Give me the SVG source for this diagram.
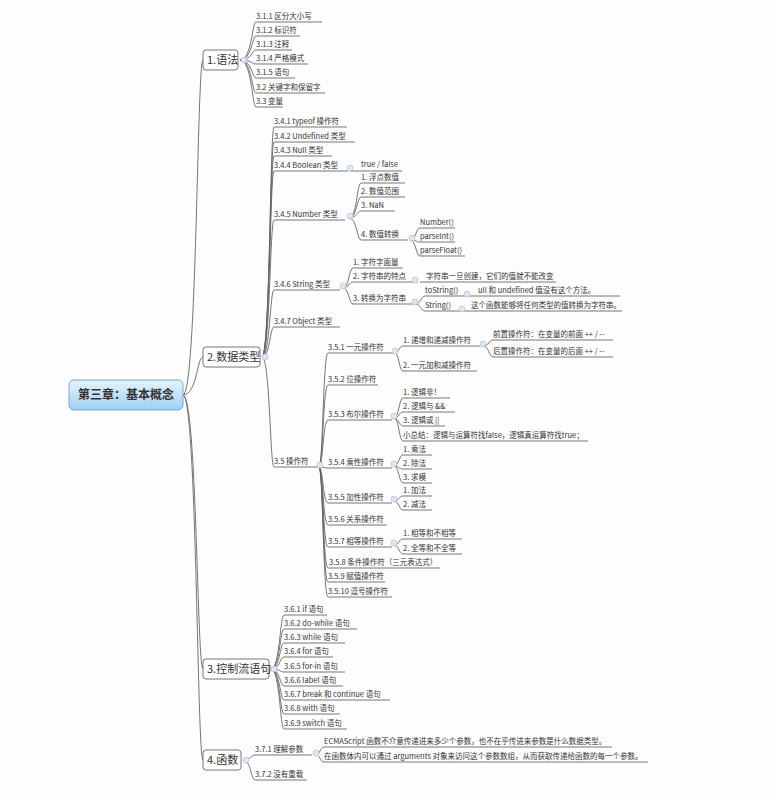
<svg xmlns="http://www.w3.org/2000/svg" width="775" height="795" viewBox="0 0 775 795">
<defs>
<linearGradient id="rg" x1="0" y1="0" x2="0" y2="1"><stop offset="0" stop-color="#e6f3ff"/><stop offset="1" stop-color="#9fd0f5"/></linearGradient>
<style>
.t{font-family:"Noto Sans CJK SC","Liberation Sans",sans-serif;font-size:7.5px;fill:#333}
.m{font-family:"Noto Sans CJK SC","Liberation Sans",sans-serif;font-size:11px;fill:#333}
.c path{fill:none;stroke:#666;stroke-width:0.9}
.box{fill:#fff;stroke:#777;stroke-width:1}
.ic{fill:#dde6f5;stroke:#aab8d8;stroke-width:0.6}
</style>
</defs>
<rect width="775" height="795" fill="#fdfdfd"/>
<g class="c" id="connectors">
<path d="M183,395 C197,395 197,60 203,60"/>
<path d="M183,395 C197,395 197,357 203,357"/>
<path d="M183,395 C197,395 197,669 203,669"/>
<path d="M183,395 C197,395 197,760 203,760"/>
<!-- 1 -->
<path d="M240,60 C252,60 252,22 256,22 H322"/>
<path d="M240,60 C252,60 252,36 256,36 H300"/>
<path d="M240,60 C252,60 252,50 256,50 H292"/>
<path d="M240,60 C252,60 252,64 256,64 H308"/>
<path d="M240,60 C252,60 252,78 256,78 H295"/>
<path d="M240,60 C252,60 252,93 256,93 H325"/>
<path d="M240,60 C252,60 252,107 256,107 H283"/>
<!-- 2 -->
<path d="M262,357 C270,357 270,127 274,127 H347"/>
<path d="M262,357 C270,357 270,142 274,142 H355"/>
<path d="M262,357 C270,357 270,156 274,156 H332"/>
<path d="M262,357 C270,357 270,171 274,171 H348"/>
<path d="M350,171 H402"/>
<path d="M262,357 C270,357 270,220 274,220 H345"/>
<path d="M262,357 C270,357 270,290 274,290 H340"/>
<path d="M262,357 C270,357 270,327 274,327 H340"/>
<path d="M262,357 C270,357 270,467 274,467 H318"/>
<!-- number -->
<path d="M349,218 C357,218 357,183 361,183 H405"/>
<path d="M349,218 C357,218 357,197 361,197 H405"/>
<path d="M349,218 C357,218 357,211 361,211 H395"/>
<path d="M349,218 C357,218 357,240 361,240 H408"/>
<path d="M410,240 C416,240 416,228 420,228 H455"/>
<path d="M410,240 C416,240 416,242 420,242 H455"/>
<path d="M410,240 C416,240 416,256 420,256 H465"/>
<!-- string -->
<path d="M343,288 C349,288 349,268 353,268 H403"/>
<path d="M343,288 C349,288 349,282 353,282 H418"/>
<path d="M420,282 H556"/>
<path d="M343,288 C349,288 349,304 353,304 H413"/>
<path d="M415,304 C421,304 421,296 425,296 H465"/>
<path d="M467,296 H620"/>
<path d="M415,304 C421,304 421,311 425,311 H462"/>
<path d="M462,311 H622"/>
<!-- 3.5 -->
<path d="M319,467 C323,467 323,353 328,353 H393"/>
<path d="M319,467 C323,467 323,385 328,385 H378"/>
<path d="M319,467 C323,467 323,420 328,420 H392"/>
<path d="M319,467 C323,467 323,468 328,468 H392"/>
<path d="M319,467 C323,467 323,503 328,503 H392"/>
<path d="M319,467 C323,467 323,525 328,525 H387"/>
<path d="M319,467 C323,467 323,547 328,547 H392"/>
<path d="M319,467 C323,467 323,568 328,568 H440"/>
<path d="M319,467 C323,467 323,582 328,582 H385"/>
<path d="M319,467 C323,467 323,597 328,597 H392"/>
<path d="M395,353 C399,353 399,346 403,346 H480"/>
<path d="M395,353 C399,353 399,371 403,371 H477"/>
<path d="M483,346 C489,346 489,340 493,340 H613"/>
<path d="M483,346 C489,346 489,357 493,357 H613"/>
<path d="M394,418 C399,418 399,398 403,398 H450"/>
<path d="M394,418 C399,418 399,412 403,412 H455"/>
<path d="M394,418 C399,418 399,426 403,426 H445"/>
<path d="M394,418 C399,418 399,441 403,441 H588"/>
<path d="M394,466 C399,466 399,455 403,455 H432"/>
<path d="M394,466 C399,466 399,469 403,469 H432"/>
<path d="M394,466 C399,466 399,483 403,483 H432"/>
<path d="M394,501 C399,501 399,496 403,496 H432"/>
<path d="M394,501 C399,501 399,510 403,510 H432"/>
<path d="M394,545 C399,545 399,539 403,539 H462"/>
<path d="M394,545 C399,545 399,554 403,554 H462"/>
<!-- 3 -->
<path d="M271,669 C280,669 280,615 284,615 H327"/>
<path d="M271,669 C280,669 280,629 284,629 H357"/>
<path d="M271,669 C280,669 280,643 284,643 H345"/>
<path d="M271,669 C280,669 280,657 284,657 H333"/>
<path d="M271,669 C280,669 280,672 284,672 H345"/>
<path d="M271,669 C280,669 280,686 284,686 H343"/>
<path d="M271,669 C280,669 280,700 284,700 H390"/>
<path d="M271,669 C280,669 280,714 284,714 H340"/>
<path d="M271,669 C280,669 280,729 284,729 H347"/>
<!-- 4 -->
<path d="M243,760 C251,760 251,755 255,755 H312"/>
<path d="M243,760 C251,760 251,780 255,780 H307"/>
<path d="M316,755 C320,755 320,747 324,747 H612"/>
<path d="M316,755 C320,755 320,762 324,762 H648"/>
</g>
<g id="icons">
<circle class="ic" cx="244" cy="60" r="3"/><circle class="ic" cx="265" cy="357" r="3"/><circle class="ic" cx="274" cy="669" r="3"/><circle class="ic" cx="246" cy="760" r="3"/>
<circle class="ic" cx="350" cy="168" r="3"/><circle class="ic" cx="350" cy="216" r="3"/><circle class="ic" cx="412" cy="238" r="3"/>
<circle class="ic" cx="343" cy="286" r="3"/><circle class="ic" cx="415" cy="280" r="3"/><circle class="ic" cx="415" cy="302" r="3"/><circle class="ic" cx="467" cy="294" r="3"/><circle class="ic" cx="462" cy="309" r="3"/>
<circle class="ic" cx="320" cy="465" r="3"/><circle class="ic" cx="395" cy="351" r="3"/><circle class="ic" cx="483" cy="344" r="3"/><circle class="ic" cx="394" cy="416" r="3"/><circle class="ic" cx="394" cy="464" r="3"/><circle class="ic" cx="394" cy="499" r="3"/><circle class="ic" cx="394" cy="543" r="3"/><circle class="ic" cx="316" cy="753" r="3"/>
</g>
<g id="root"><rect x="69" y="380" width="114" height="30" rx="5" fill="url(#rg)" stroke="#7aa6cc"/><text x="126" y="399" text-anchor="middle" font-family="Noto Sans CJK SC, sans-serif" font-size="12" font-weight="bold" fill="#333">第三章：基本概念</text></g>
<g id="n1"><rect class="box" x="203" y="50" width="35" height="20" rx="3"/><text class="m" x="207" y="64">1.语法</text></g>
<g id="n2"><rect class="box" x="203" y="347" width="57" height="20" rx="3"/><text class="m" x="207" y="361">2.数据类型</text></g>
<g id="n3"><rect class="box" x="203" y="659" width="66" height="20" rx="3"/><text class="m" x="207" y="673">3.控制流语句</text></g>
<g id="n4"><rect class="box" x="203" y="750" width="38" height="20" rx="3"/><text class="m" x="207" y="764">4.函数</text></g>
<g id="leaves" class="t">
<text class="t" x="256" y="19">3.1.1 区分大小写</text>
<text class="t" x="256" y="33">3.1.2 标识符</text>
<text class="t" x="256" y="47">3.1.3 注释</text>
<text class="t" x="256" y="61">3.1.4 严格模式</text>
<text class="t" x="256" y="75">3.1.5 语句</text>
<text class="t" x="256" y="90">3.2 关键字和保留字</text>
<text class="t" x="256" y="104">3.3 变量</text>
<text class="t" x="274" y="124">3.4.1  typeof 操作符</text>
<text class="t" x="274" y="139">3.4.2  Undefined 类型</text>
<text class="t" x="274" y="153">3.4.3  Null 类型</text>
<text class="t" x="274" y="168">3.4.4  Boolean 类型</text>
<text class="t" x="361" y="167">true / false</text>
<text class="t" x="274" y="217">3.4.5  Number 类型</text>
<text class="t" x="361" y="180">1. 浮点数值</text>
<text class="t" x="361" y="194">2. 数值范围</text>
<text class="t" x="361" y="208">3.  NaN</text>
<text class="t" x="361" y="237">4. 数值转换</text>
<text class="t" x="420" y="225">Number()</text>
<text class="t" x="420" y="239">parseInt()</text>
<text class="t" x="420" y="253">parseFloat()</text>
<text class="t" x="274" y="287">3.4.6  String 类型</text>
<text class="t" x="353" y="265">1. 字符字面量</text>
<text class="t" x="353" y="279">2. 字符串的特点</text>
<text class="t" x="426" y="279">字符串一旦创建，它们的值就不能改变</text>
<text class="t" x="353" y="301">3. 转换为字符串</text>
<text class="t" x="425" y="293">toString()</text>
<text class="t" x="478" y="293">ull 和 undefined 值没有这个方法。</text>
<text class="t" x="425" y="308">String()</text>
<text class="t" x="471" y="308">这个函数能够将任何类型的值转换为字符串。</text>
<text class="t" x="274" y="324">3.4.7  Object 类型</text>
<text class="t" x="274" y="464">3.5 操作符</text>
<text class="t" x="328" y="350">3.5.1 一元操作符</text>
<text class="t" x="403" y="343">1. 递增和递减操作符</text>
<text class="t" x="493" y="337">前置操作符：在变量的前面 ++ / --</text>
<text class="t" x="493" y="354">后置操作符：在变量的后面 ++ / --</text>
<text class="t" x="403" y="368">2. 一元加和减操作符</text>
<text class="t" x="328" y="382">3.5.2 位操作符</text>
<text class="t" x="328" y="417">3.5.3 布尔操作符</text>
<text class="t" x="403" y="395">1. 逻辑非！</text>
<text class="t" x="403" y="409">2. 逻辑与 &amp;&amp;</text>
<text class="t" x="403" y="423">3. 逻辑或 ||</text>
<text class="t" x="403" y="438">小总结：逻辑与运算符找false，逻辑真运算符找true；</text>
<text class="t" x="328" y="465">3.5.4 乘性操作符</text>
<text class="t" x="403" y="452">1. 乘法</text>
<text class="t" x="403" y="466">2. 除法</text>
<text class="t" x="403" y="480">3. 求模</text>
<text class="t" x="328" y="500">3.5.5 加性操作符</text>
<text class="t" x="403" y="493">1. 加法</text>
<text class="t" x="403" y="507">2. 减法</text>
<text class="t" x="328" y="522">3.5.6 关系操作符</text>
<text class="t" x="328" y="544">3.5.7 相等操作符</text>
<text class="t" x="403" y="536">1. 相等和不相等</text>
<text class="t" x="403" y="551">2. 全等和不全等</text>
<text class="t" x="329" y="565">3.5.8 条件操作符（三元表达式）</text>
<text class="t" x="328" y="579">3.5.9 赋值操作符</text>
<text class="t" x="328" y="594">3.5.10 逗号操作符</text>
<text class="t" x="284" y="612">3.6.1  if 语句</text>
<text class="t" x="284" y="626">3.6.2  do-while 语句</text>
<text class="t" x="284" y="640">3.6.3  while 语句</text>
<text class="t" x="284" y="654">3.6.4  for 语句</text>
<text class="t" x="284" y="669">3.6.5  for-in 语句</text>
<text class="t" x="284" y="683">3.6.6  label 语句</text>
<text class="t" x="284" y="697">3.6.7  break 和 continue 语句</text>
<text class="t" x="284" y="711">3.6.8  with 语句</text>
<text class="t" x="284" y="726">3.6.9  switch 语句</text>
<text class="t" x="255" y="752">3.7.1 理解参数</text>
<text class="t" x="255" y="777">3.7.2 没有重载</text>
<text class="t" x="324" y="744">ECMAScript 函数不介意传递进来多少个参数，也不在乎传进来参数是什么数据类型。</text>
<text class="t" x="324" y="759">在函数体内可以通过 arguments 对象来访问这个参数数组，从而获取传递给函数的每一个参数。</text>
</g>
</svg>
